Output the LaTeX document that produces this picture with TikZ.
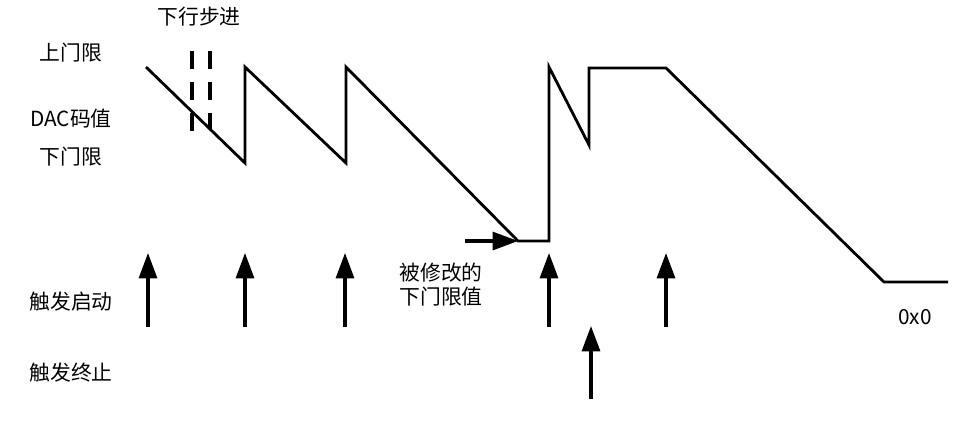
\documentclass[tikz,border=0pt]{standalone}
\usepackage{fontspec}
\setmainfont{Noto Sans CJK SC}
\usetikzlibrary{arrows.meta}
\tikzset{
    mylabel/.style = {align=center, inner sep=0, text=black, font=\fontsize{15.6pt}{18pt}\selectfont},
    edgew/.style = {-, line width=2.1pt, black, line join=miter},
    edgea/.style = {-{Triangle[length=19pt,width=13.5pt]}, line width=2.3pt, black},
    edged/.style = {-, line width=2.3pt, black, dash pattern=on 13.5pt off 9.75pt}, % step
}

\begin{document}
\begin{tikzpicture}[x=0.75pt,y=-0.75pt]
\useasboundingbox (0,0) rectangle (977,426);

% labels
\node[mylabel] at ( 71, 53) (lblup) {上门限};
\node[mylabel] at ( 71,119) (lbldac) {DAC码值};
\node[mylabel] at ( 71,157) (lbldown) {下门限};
\node[mylabel] at ( 71,302) (lblstart) {触发启动};
\node[mylabel] at ( 71,373) (lblstop) {触发终止};
\node[mylabel] at (199, 17) (lblstep) {下行步进};
\node[mylabel] at (441,285) (lblmod) {被修改的\\下门限值};
\node[mylabel] at (915,317) (lblzero) {0x0};

% waveform
\coordinate (w0) at (146, 67);
\coordinate (w1) at (245,163);
\coordinate (w2) at (245, 67);
\coordinate (w3) at (346,163);
\coordinate (w4) at (346, 67);
\coordinate (w5) at (518,241);
\coordinate (w6) at (549,241);
\coordinate (w7) at (549, 67);
\coordinate (w8) at (589,145);
\coordinate (w9) at (589, 68);
\coordinate (w10) at (666, 68);
\coordinate (w11) at (884,282);
\coordinate (w12) at (948,282);
\draw[edgew] (w0) -- (w1) -- (w2) -- (w3) -- (w4) -- (w5) -- (w6) -- (w7) -- (w8) -- (w9) -- (w10) -- (w11) -- (w12);

% step
\coordinate (d1a) at (192, 51);
\coordinate (d1b) at (192,132);
\coordinate (d2a) at (210, 51);
\coordinate (d2b) at (210,129);
\draw[edged] (d1a) -- (d1b);
\draw[edged] (d2a) -- (d2b);

% modified lower limit
\coordinate (m0) at (465,241);
\draw[edgea] (m0) -- (w5);

% trigger start
\coordinate (s1b) at (148,327); \coordinate (s1t) at (148,253);
\coordinate (s2b) at (245,327); \coordinate (s2t) at (245,253);
\coordinate (s3b) at (345,327); \coordinate (s3t) at (345,253);
\coordinate (s4b) at (549,327); \coordinate (s4t) at (549,253);
\coordinate (s5b) at (666,327); \coordinate (s5t) at (666,253);
\draw[edgea] (s1b) -- (s1t);
\draw[edgea] (s2b) -- (s2t);
\draw[edgea] (s3b) -- (s3t);
\draw[edgea] (s4b) -- (s4t);
\draw[edgea] (s5b) -- (s5t);

% trigger stop
\coordinate (e1b) at (591,399); \coordinate (e1t) at (591,326);
\draw[edgea] (e1b) -- (e1t);

\end{tikzpicture}
\end{document}
